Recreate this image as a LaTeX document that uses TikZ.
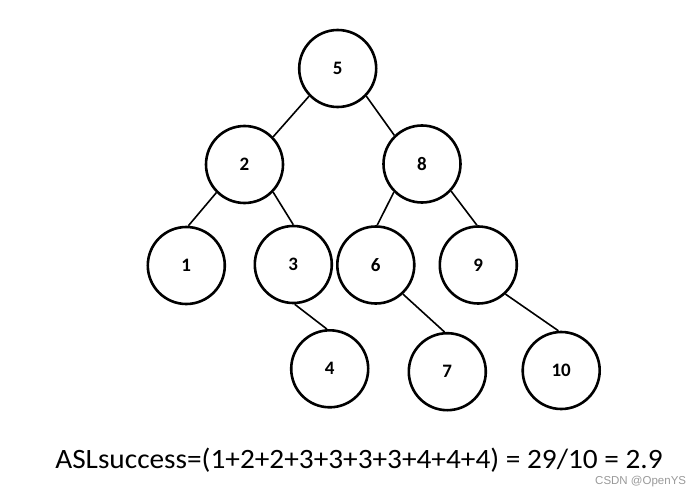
\documentclass[tikz,border=0pt]{standalone}
\usepackage{fontspec}
\setmainfont{Carlito}
\newfontfamily\wmfont{Liberation Sans}
\begin{document}
\begin{tikzpicture}[x=1pt,y=-1pt,
  vtx/.style={circle, draw, line width=2.6pt, minimum size=77pt, inner sep=0pt, font=\fontsize{19}{19}\selectfont\bfseries},
  edge/.style={line width=1.6pt},
  formula/.style={font=\fontsize{28}{28}\selectfont, inner sep=0pt, xscale=1.046},
  wm/.style={font=\wmfont\fontsize{11.5}{11.5}\selectfont, text=black!40, inner sep=0pt}]
\useasboundingbox (0,0) rectangle (691,495);
\node[vtx] (n5) at (337.7,68.5) {5};
\node[vtx] (n2) at (244.5,164.5) {2};
\node[vtx] (n8) at (422,164) {8};
\node[vtx] (n1) at (186.3,265.5) {1};
\node[vtx] (n3) at (293.3,264.5) {3};
\node[vtx] (n6) at (375.8,265) {6};
\node[vtx] (n9) at (478.3,265) {9};
\node[vtx] (n4) at (329.7,368.8) {4};
\node[vtx] (n7) at (447.3,371.7) {7};
\node[vtx] (n10) at (561.2,370.5) {10};
\draw[edge] (n5.224) -- (n2.44);
\draw[edge] (n5.316) -- (n8.134);
\draw[edge] (n2.225) -- (n1.87);
\draw[edge] (n2.316) -- (n3.90);
\draw[edge] (n8.225) -- (n6.88);
\draw[edge] (n8.317) -- (n9.92);
\draw[edge] (n3.272) -- (n4.94);
\draw[edge] (n6.313) -- (n7.94);
\draw[edge] (n9.313) -- (n10.94);
\node[formula, anchor=base] (asl) at (359,468) {ASLsuccess=(1+2+2+3+3+3+3+4+4+4) = 29/10 = 2.9};
\node[wm, anchor=base west] (csdn) at (595,484) {CSDN @OpenYS};
\end{tikzpicture}
\end{document}
